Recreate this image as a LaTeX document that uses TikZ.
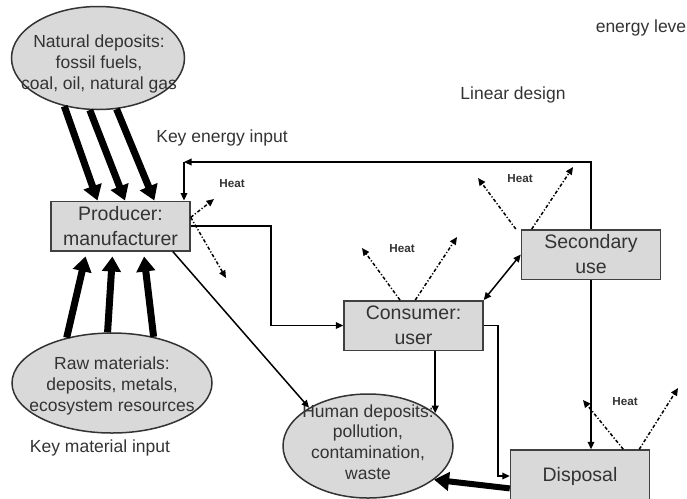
\documentclass[tikz,border=0pt]{standalone}
\usepackage{fontspec}
\setmainfont{Liberation Sans}
\usetikzlibrary{arrows.meta}
\usetikzlibrary{shapes.geometric}
\tikzstyle{box}=[rectangle,draw=black!75,fill=black!15,minimum width=83.4pt,minimum height=29.7pt,inner sep=0mm,align=center,text=black!80,font=\fontsize{11.7}{15}\selectfont]
\tikzstyle{deposit}=[ellipse,draw=black!80,fill=black!15,inner sep=0mm]
\tikzstyle{deposittext}=[align=center,text=black!80,font=\fontsize{10.5}{12.4}\selectfont]
\tikzstyle{note}=[text=black!80,font=\fontsize{10.5}{12.6}\selectfont]
\tikzstyle{heatlabel}=[text=black!80,font=\fontsize{7}{8}\selectfont\bfseries]
\tikzstyle{flow}=[->,>={Triangle[length=4.5pt,width=4pt]}]
\tikzstyle{input}=[-{Triangle[length=9pt,width=11pt]},line width=4.2pt]
\tikzstyle{heat}=[flow,dash pattern=on 2pt off 1.2pt on 0.7pt off 1.2pt]
\tikzset{every picture/.style={
    line width=0.9pt
  }
}

\begin{document}
\begin{tikzpicture}[x=0.6pt,y=-0.6pt]
      \useasboundingbox (0,0) rectangle (687,498);
      % deposits
      \node[deposit,minimum width=103.8pt,minimum height=61.8pt] at (98,58) (natural) {};
      \node[deposittext] at (99,64) (naturaltext) {Natural deposits:\\fossil fuels,\\coal, oil, natural gas};
      \node[deposit,minimum width=120pt,minimum height=60pt] at (112,383) (raw) {};
      \node[deposittext] at (112,386) (rawtext) {Raw materials:\\deposits, metals,\\ecosystem resources};
      \node[deposit,minimum width=102pt,minimum height=62.4pt] at (368,446) (human) {};
      \node[deposittext] at (368,442) (humantext) {Human deposits:\\pollution,\\contamination,\\waste};
      % stages
      \node[box] at (120.5,226) (producer) {Producer:\\manufacturer};
      \node[box] at (413.5,325.5) (consumer) {Consumer:\\user};
      \node[box] at (591,254.5) (secondary) {Secondary\\use};
      \node[box,minimum height=31.2pt] at (580,476) (disposal) {Disposal};
      % texts
      \node[note] at (222,138) (energyin) {Key energy input};
      \node[note] at (100,448) (materialin) {Key material input};
      \node[note] at (513,95) (linear) {Linear design};
      \node[note] at (641,28) (level) {energy leve};
      \node[heatlabel] at (232,184) (heatP) {Heat};
      \node[heatlabel] at (402,249) (heatC) {Heat};
      \node[heatlabel] at (520,179) (heatS) {Heat};
      \node[heatlabel] at (625,402) (heatD) {Heat};
      \coordinate (corner) at (184,162);
      \coordinate (heatP1) at (214,199);
      \coordinate (heatP2) at (226,278);
      \coordinate (heatC1) at (362,248);
      \coordinate (heatC2) at (457,237);
      \coordinate (heatS1) at (478,178);
      \coordinate (heatS2) at (573,167);
      \coordinate (heatD1) at (583,400);
      \coordinate (heatD2) at (678,388);
      % key inputs
      \draw[input] (natural.235)--(producer.132);
      \draw[input] (natural.261)--(producer.80);
      \draw[input] (natural.290)--(producer.37.6);
      \draw[input,shorten >=3pt] (raw.135.6)--(producer.217.6);
      \draw[input,shorten >=3pt] (raw.95.7)--(producer.253.3);
      \draw[input,shorten >=3pt] (raw.48)--(producer.312);
      \draw[input,line width=3.6pt] (disposal.190.3)--(human.333);
      % flows
      \draw[flow] (producer.east) -- ++(80,0) |- (consumer.west);
      \draw[flow] (producer.334.5)--(human.147.8);
      \draw[flow] (consumer.south -| human.26)--(human.26);
      \draw[flow] (consumer.east) -- ++(14,0) |- (disposal.west);
      \draw[flow,<->] (consumer.north east)--(secondary.west);
      \draw[flow] (secondary.south)--(secondary.south |- disposal.north);
      \draw[flow] (secondary.north) |- (corner);
      \draw[flow] (corner)--(corner |- producer.north);
      % heat losses
      \draw[heat] (producer.7)--(heatP1);
      \draw[heat] (producer.7)--(heatP2);
      \draw[heat] (consumer.118.9)--(heatC1);
      \draw[heat] (consumer.86.5)--(heatC2);
      \draw[heat] ([xshift=-3pt]secondary.north west)--(heatS1);
      \draw[heat] ([xshift=6.6pt]secondary.north west)--(heatS2);
      \draw[heat] ([xshift=-16.2pt]disposal.north east)--(heatD1);
      \draw[heat] ([xshift=-6.6pt]disposal.north east)--(heatD2);
    \end{tikzpicture}
\end{document}
